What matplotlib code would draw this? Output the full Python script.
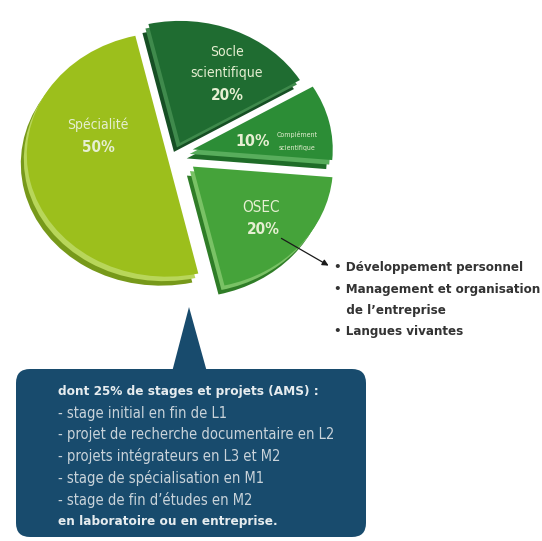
import matplotlib.pyplot as plt
from matplotlib.patches import FancyBboxPatch, Polygon

plt.rcParams['font.family'] = ['DejaVu Sans']
plt.rcParams['font.stretch'] = 'condensed'

# parts of the curriculum, in drawing order (clockwise from the top)
parts = ['Socle scientifique', 'Complément scientifique', 'OSEC', 'Spécialité']
shares = [20, 10, 20, 50]
explode = [0.09, 0.13, 0.17, 0.06]
face_colors = ['#1f6c31', '#2c8d36', '#45a33a', '#9cbf1c']
side_colors = ['#164f24', '#1f6c28', '#2f7d27', '#77991a']
edge_colors = ['#3f8a4c', '#58ad5c', '#79c265', '#b8d65a']

osec_items = ['• Développement personnel',
              '• Management et organisation',
              '   de l\u2019entreprise',
              '• Langues vivantes']

ams_title = 'dont 25% de stages et projets (AMS) :'
ams_items = ['- stage initial en fin de L1',
             '- projet de recherche documentaire en L2',
             '- projets intégrateurs en L3 et M2',
             '- stage de spécialisation en M1',
             '- stage de fin d\u2019études en M2']
ams_footer = 'en laboratoire ou en entreprise.'

W, H = 542, 541
fig = plt.figure(figsize=(W / 100, H / 100), dpi=100)

# the pie sits in its own axes, stretched a little sideways for the tilted look
cx, cy, a, b = 175, 153, 140, 122
span = 1.35
pax = fig.add_axes([(cx - span * a) / W, (H - cy - span * b) / H,
                    2 * span * a / W, 2 * span * b / H])

# extruded sides first, then the top faces
for dx, dy, cols in [(-6, 9, side_colors), (-3, 4.5, edge_colors)]:
    pax.pie(shares, explode=explode, colors=cols, startangle=103,
            counterclock=False, radius=1, center=(dx / a, -dy / b),
            wedgeprops=dict(linewidth=0))
pax.pie(shares, explode=explode, colors=face_colors, startangle=103,
        counterclock=False, radius=1, center=(0, 0),
        wedgeprops=dict(linewidth=0))
pax.set_aspect('auto')
pax.set_xlim(-span, span)
pax.set_ylim(-span, span)
pax.axis('off')

# everything else is laid out in pixel units on top
ax = fig.add_axes([0, 0, 1, 1])
ax.set_xlim(0, W)
ax.set_ylim(H, 0)
ax.axis('off')

lab = '#e6efd2'
ax.text(227, 52, 'Socle', color=lab, fontsize=10, ha='center', va='center')
ax.text(227, 73, 'scientifique', color=lab, fontsize=10, ha='center', va='center')
ax.text(227, 95, '20%', color=lab, fontsize=11, fontweight='bold', ha='center', va='center')
ax.text(98, 125, 'Spécialité', color=lab, fontsize=10, ha='center', va='center')
ax.text(98, 147, '50%', color=lab, fontsize=11, fontweight='bold', ha='center', va='center')
ax.text(253, 141, '10%', color=lab, fontsize=11.5, fontweight='bold', ha='center', va='center')
ax.text(297, 135, 'Complément', color=lab, fontsize=5, ha='center', va='center')
ax.text(297, 148, 'scientifique', color=lab, fontsize=5, ha='center', va='center')
ax.text(261, 208, 'OSEC', color=lab, fontsize=11, ha='center', va='center')
ax.text(263, 230, '20%', color=lab, fontsize=11, fontweight='bold', ha='center', va='center')

# pointer from the OSEC slice to its list
ax.annotate('', xy=(331, 267), xytext=(279, 237),
            arrowprops=dict(arrowstyle='-|>', color='#1a1a1a', lw=0.9,
                            mutation_scale=9))
for i, item in enumerate(osec_items):
    ax.text(334, 268 + i * 21.3, item, color='#333333', fontsize=9.5,
            fontweight='bold', ha='left', va='center')

# callout box
box_col = '#184b6d'
ax.add_patch(FancyBboxPatch((16, 369), 350, 168,
                            boxstyle='round,pad=0,rounding_size=14',
                            facecolor=box_col, edgecolor='none'))
ax.add_patch(Polygon([(172, 372), (189, 307), (207, 372)], closed=True,
                     facecolor=box_col, edgecolor='none'))

txt = '#e6ecef'
ax.text(58, 392, ams_title, color=txt, fontsize=9.7, fontweight='bold',
        ha='left', va='center')
for i, item in enumerate(ams_items):
    ax.text(58, 413.5 + i * 21.5, item, color='#c9d3da', fontsize=10.5,
            ha='left', va='center')
ax.text(58, 521, ams_footer, color=txt, fontsize=9.7, fontweight='bold',
        ha='left', va='center')

fig.savefig('out.png', dpi=100)
